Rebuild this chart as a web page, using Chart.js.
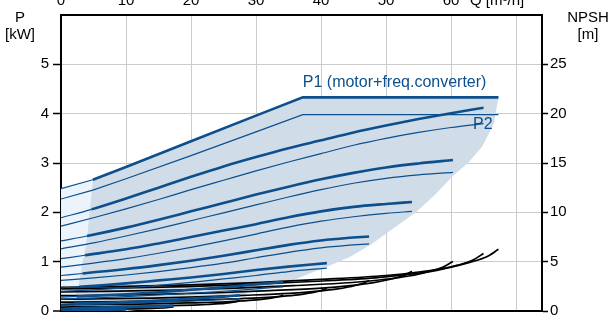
<!DOCTYPE html>
<html><head><meta charset="utf-8">
<script src="https://cdn.jsdelivr.net/npm/chart.js@4/dist/chart.umd.min.js"></script>
<style>
html,body{margin:0;padding:0;background:#fff;overflow:hidden;width:613px;height:316px;position:relative}
#c{position:absolute;left:0;top:-10px}
</style>
</head><body>
<canvas id="c" width="613" height="326"></canvas>
<script>
// ---- tick labels ----
const qTicks = [0,10,20,30,40,50,60];
const pTicks = [0,1,2,3,4,5];
const npshTicks = [0,5,10,15,20,25];

// ---- P1 (motor+freq.converter) curves [Q m3/h, P kW] ----
const P1_A = [[0,2.48],[4.9,2.66],[10,2.92],[20,3.44],[30,3.96],[37.2,4.33],[67.3,4.33]];
const P1_B = [[0,1.89],[4.7,2.06],[10,2.28],[15,2.5],[20,2.72],[25,2.93],[30,3.12],[35,3.3],[40,3.46],[45,3.62],[50,3.76],[55,3.89],[60,4.01],[65,4.12]];
const P1_C = [[0,1.42],[4,1.52],[10,1.69],[15,1.85],[20,2.02],[25,2.19],[30,2.36],[35,2.52],[40,2.67],[45,2.8],[50,2.91],[55,2.99],[60.3,3.06]];
const P1_D = [[0,1.06],[3.7,1.13],[10,1.25],[15,1.37],[20,1.5],[25,1.63],[30,1.76],[35,1.9],[40,2.02],[45,2.11],[50,2.17],[54,2.21]];
const P1_E = [[0,0.72],[3.3,0.76],[10,0.85],[15,0.93],[20,1.02],[25,1.12],[30,1.23],[35,1.34],[40,1.43],[44,1.48],[47.4,1.51]];
const P1_F = [[0,0.47],[2.8,0.49],[10,0.56],[15,0.62],[20,0.68],[25,0.75],[30,0.83],[35,0.9],[40.9,0.97]];
const P1_G = [[0,0.28],[2.4,0.295],[10,0.34],[15,0.38],[20,0.43],[25,0.48],[30,0.54],[34.2,0.59]];
const P1_H = [[0,0.14],[2,0.15],[10,0.18],[15,0.21],[20,0.25],[25,0.29],[27.5,0.32]];
const P1_I = [[0,0.05],[1.7,0.055],[10,0.08],[17.3,0.11]];
const P1_J = [[0,0.015],[1.5,0.017],[10,0.035]];

// ---- P2 (shaft power) curves ----
const P2_A = [[0,2.27],[4.9,2.45],[10,2.68],[20,3.15],[30,3.63],[37.2,3.98],[67.3,3.98]];
const P2_B = [[0,1.72],[5,1.89],[10,2.07],[15,2.26],[20,2.46],[25,2.65],[30,2.84],[35,3.02],[40,3.19],[45,3.36],[50,3.5],[55,3.62],[60,3.72],[65,3.8]];
const P2_C = [[0,1.26],[5,1.38],[10,1.52],[15,1.67],[20,1.83],[25,1.99],[30,2.15],[35,2.31],[40,2.46],[45,2.59],[50,2.69],[55,2.76],[60.3,2.81]];
const P2_D = [[0,0.89],[5,0.97],[10,1.06],[15,1.17],[20,1.29],[25,1.42],[30,1.56],[35,1.7],[40,1.82],[45,1.91],[50,1.98],[54,2.02]];
const P2_E = [[0,0.62],[5,0.67],[10,0.73],[15,0.8],[20,0.88],[25,0.97],[30,1.08],[35,1.19],[40,1.28],[44,1.33],[47.4,1.36]];
const P2_F = [[0,0.4],[5,0.43],[10,0.47],[15,0.52],[20,0.58],[25,0.65],[30,0.72],[35,0.8],[40.9,0.87]];
const P2_G = [[0,0.24],[10,0.29],[20,0.36],[25,0.4],[30,0.45],[34.2,0.49]];
const P2_H = [[0,0.12],[10,0.155],[20,0.2],[27.5,0.25]];
const P2_I = [[0,0.04],[10,0.065],[17.3,0.09]];
const P2_J = [[0,0.012],[10,0.028]];

// ---- NPSH curves [Q m3/h, NPSH m] ----
const NPSH_A = [[0,2.4],[10,2.5],[20,2.65],[30,2.88],[40,3.2],[50,3.6],[55,3.95],[60,4.45],[63,4.95],[65.5,5.5],[67.3,6.25]];
const NPSH_B = [[0,2.24],[9.66,2.33],[19.3,2.47],[29,2.69],[38.6,2.99],[48.3,3.36],[53.1,3.69],[58,4.15],[60.9,4.62],[63.3,5.13],[65,5.83]];
const NPSH_C = [[0,1.93],[9,2.01],[17.9,2.13],[26.9,2.31],[35.8,2.57],[44.8,2.89],[49.3,3.17],[53.8,3.57],[56.4,3.97],[58.7,4.42],[60.3,5.02]];
const NPSH_D = [[0,1.55],[8,1.61],[16,1.71],[24.1,1.85],[32.1,2.06],[40.1,2.32],[44.1,2.54],[48.1,2.87],[50.5,3.19],[52.5,3.54],[54,4.02]];
const NPSH_E = [[0,1.19],[7,1.24],[14.1,1.31],[21.1,1.43],[28.2,1.59],[35.2,1.79],[38.7,1.96],[42.3,2.21],[44.4,2.46],[46.1,2.73],[47.4,3.1]];
const NPSH_F = [[0,0.89],[6.1,0.92],[12.2,0.98],[18.2,1.06],[24.3,1.18],[30.4,1.33],[33.4,1.46],[36.5,1.64],[38.3,1.83],[39.8,2.03],[40.9,2.31]];
const NPSH_G = [[0,0.62],[5.1,0.65],[10.2,0.68],[15.2,0.74],[20.3,0.83],[25.4,0.93],[27.9,1.02],[30.5,1.15],[32,1.28],[33.3,1.42],[34.2,1.61]];
const NPSH_H = [[0,0.4],[4.1,0.42],[8.2,0.44],[12.3,0.48],[16.3,0.53],[20.4,0.6],[22.5,0.66],[24.5,0.74],[25.7,0.83],[26.8,0.92],[27.5,1.04]];
const NPSH_I = [[0,0.16],[5.1,0.17],[10.3,0.21],[14.1,0.26],[16.2,0.33],[17.3,0.41]];
const NPSH_J = [[0,0.05],[5,0.06],[8.5,0.08],[10,0.14]];

// Q where P1 turns from thin to thick (edge of light zone)
const THICK_FROM = [4.9,4.7,4.0,3.7,3.3,2.8,2.4,2.0,1.7,1.5];

// ---- zones ----
const LIGHT_ZONE = [[0,0],[0,2.48],[4.9,2.66],[3.95,1.43],[3.4,1.03],[2.6,0.47],[1.4,0]];
const SHADE_ZONE = [[1.4,0],[2.6,0.47],[3.4,1.03],[3.95,1.43],[4.9,2.66],[10,2.92],[20,3.44],[30,3.96],[37.2,4.33],[67.3,4.33],[66.6,3.8],[64.8,3.33],[62.6,3.0],[60.4,2.75],[57.5,2.35],[54.6,2.0],[51,1.66],[47.8,1.36],[44.5,1.1],[41,0.9],[37.5,0.72],[34.5,0.56],[30,0.4],[25,0.25],[20,0.14],[14,0.05],[10,0]];

const BLUE = '#0c4f8c';
const P1S = [P1_A,P1_B,P1_C,P1_D,P1_E,P1_F,P1_G,P1_H,P1_I,P1_J];
const P2S = [P2_A,P2_B,P2_C,P2_D,P2_E,P2_F,P2_G,P2_H,P2_I,P2_J];
const NS  = [NPSH_A,NPSH_B,NPSH_C,NPSH_D,NPSH_E,NPSH_F,NPSH_G,NPSH_H,NPSH_I,NPSH_J];

const datasets = [];
datasets.push({data:LIGHT_ZONE, fill:'shape', backgroundColor:'#ebf4fc', borderColor:'rgba(0,0,0,0)', borderWidth:0, order:100, tension:0});
datasets.push({data:SHADE_ZONE, fill:'shape', backgroundColor:'#d0dce8', borderColor:'rgba(0,0,0,0)', borderWidth:0, order:99, tension:0});
NS.forEach(n=>datasets.push({data:n, yAxisID:'y2', borderColor:'#000', borderWidth:1.7, fill:false, order:50, cubicInterpolationMode:'monotone'}));
P2S.forEach((p,i)=>datasets.push({data:p, borderColor:BLUE, borderWidth:1.2, fill:false, order:10,
  cubicInterpolationMode: i===0?'default':'monotone', tension:0}));
P1S.forEach((p,i)=>{
  const t = THICK_FROM[i];
  datasets.push({data:p, borderColor:BLUE, borderWidth:1.2, fill:false, order:5,
    cubicInterpolationMode: i===0?'default':'monotone', tension:0,
    segment:{borderWidth:c=>c.p0.parsed.x >= t-1e-6 ? 2.6 : 1.2}});
});

const FONT = "'Liberation Sans', Arial, sans-serif";
Chart.defaults.font.family = FONT;
Chart.defaults.font.size = 15;
Chart.defaults.color = '#000';

function noPad(s){ s.paddingTop = 0; s.paddingBottom = 0; s.paddingLeft = 0; s.paddingRight = 0; }

const textPlugin = {
  id:'texts',
  afterDraw(chart){
    const ctx = chart.ctx, x = chart.scales.x, y = chart.scales.y;
    ctx.save();
    ctx.fillStyle = '#000';
    ctx.font = '15px ' + FONT;
    ctx.textAlign = 'center'; ctx.textBaseline = 'middle';
    ctx.fillText('P', 20, 28);
    ctx.fillText('[kW]', 20, 45);
    ctx.fillText('NPSH', 588, 28);
    ctx.fillText('[m]', 588, 45);
    ctx.textAlign = 'left';
    ctx.fillText('Q [m\u00B3/h]', 470, 11);
    ctx.fillStyle = BLUE;
    ctx.font = '16px ' + FONT;
    ctx.fillText('P1 (motor+freq.converter)', x.getPixelForValue(37.2), y.getPixelForValue(4.62));
    ctx.fillText('P2', x.getPixelForValue(63.4), y.getPixelForValue(3.78));
    ctx.restore();
  }
};

new Chart(document.getElementById('c'), {
  type:'line',
  data:{datasets},
  options:{
    responsive:false, animation:false, events:[],
    layout:{padding:{top:0,left:0,right:0,bottom:5}},
    elements:{point:{radius:0}},
    plugins:{legend:{display:false}, tooltip:{enabled:false}},
    scales:{
      x:{type:'linear', position:'top', min:0, max:74,
        afterFit(s){ s.height = 25; noPad(s); },
        ticks:{stepSize:10, includeBounds:false, padding:5, maxRotation:0,
          callback:v=>qTicks.includes(v)?String(v):''},
        grid:{drawTicks:false, color:c=>c.tick && c.tick.value===0?'rgba(0,0,0,0)':'#cccccc', lineWidth:1},
        border:{display:true, color:'#000', width:2}},
      y:{type:'linear', position:'left', min:0, max:6,
        afterFit(s){ s.width = 61; noPad(s); },
        ticks:{stepSize:1, padding:4, callback:v=>pTicks.includes(v)?String(v):''},
        grid:{color:c=>(c.tick.value===0||c.tick.value===6)?'#000':'#cccccc',
              lineWidth:c=>(c.tick.value===0||c.tick.value===6)?2:1,
              tickColor:c=>c.tick.value===6?'rgba(0,0,0,0)':'#000', tickLength:8, tickWidth:1.5},
        border:{display:true, color:'#000', width:2}},
      y2:{type:'linear', position:'right', min:0, max:30,
        afterFit(s){ s.width = 71; noPad(s); },
        ticks:{stepSize:5, padding:2, callback:v=>npshTicks.includes(v)?String(v):''},
        grid:{drawOnChartArea:false, tickColor:c=>c.tick.value===30?'rgba(0,0,0,0)':'#000', tickLength:6, tickWidth:1.5},
        border:{display:true, color:'#000', width:2}}
    }
  },
  plugins:[textPlugin]
});
</script>
</body></html>
